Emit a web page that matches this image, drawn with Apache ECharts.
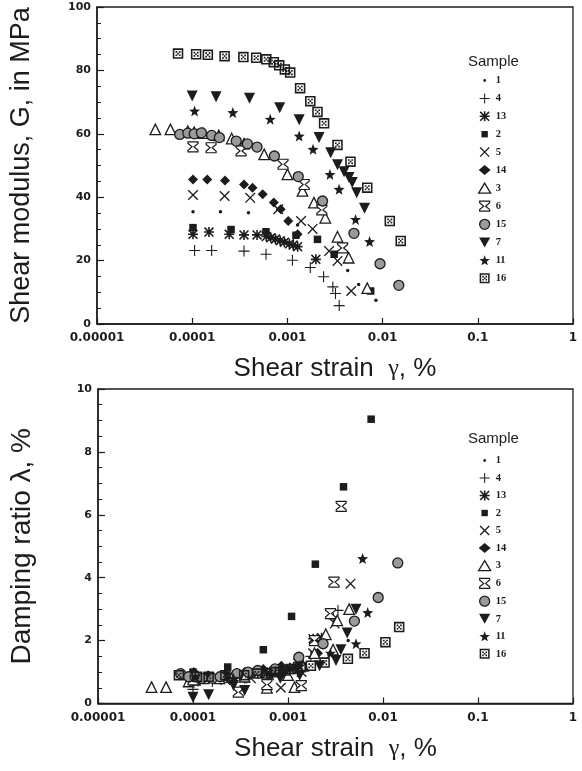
<!DOCTYPE html>
<html>
<head>
<meta charset="utf-8">
<script src="https://cdn.jsdelivr.net/npm/echarts@6/dist/echarts.min.js"></script>
<style>html,body{margin:0;padding:0;background:#fff;}#c{width:582px;height:771px;}</style>
</head>
<body>
<div id="c"></div>
<script>
// ---- tick labels / categories ----
const xTickLabels = ['0.00001', '0.0001', '0.001', '0.01', '0.1', '1'];
const samples = ['1', '4', '13', '2', '5', '14', '3', '6', '15', '7', '11', '16'];

// ---- Shear modulus G (MPa) vs shear strain (%) ----
const G1  = [[1.02e-4,35.4],[1.98e-4,35.4],[3.9e-4,35.1],[1.28e-3,31.2],[4.3e-3,16.9],[5.6e-3,12.5],[8.5e-3,7.5]];
const G4  = [[1.06e-4,23.2],[1.6e-4,23.2],[3.5e-4,23],[5.96e-4,22],[1.13e-3,20.1],[1.74e-3,17.8],[2.4e-3,14.9],[3.0e-3,11.7],[3.2e-3,9.6],[3.5e-3,5.8]];
const G13 = [[1.02e-4,28.3],[1.5e-4,29],[2.45e-4,28.3],[3.5e-4,28.1],[4.8e-4,28.1],[6.0e-4,27.6],[6.7e-4,27.2],[7.5e-4,26.8],[8.4e-4,26.3],[9.3e-4,25.8],[1.05e-3,25.3],[1.15e-3,24.9],[1.28e-3,24.4],[1.99e-3,20.4]];
const G2  = [[1.02e-4,30.4],[2.56e-4,29.8],[5.96e-4,29.1],[1.23e-3,28],[2.07e-3,26.7],[3.1e-3,22],[7.5e-3,10.4]];
const G5  = [[1.02e-4,40.7],[2.19e-4,40.4],[4.07e-4,39.8],[8.0e-4,36.2],[1.39e-3,32.5],[1.84e-3,30],[2.74e-3,23],[3.36e-3,19.9],[4.68e-3,10.4]];
const G14 = [[1.02e-4,45.6],[1.44e-4,45.6],[2.21e-4,45.3],[3.5e-4,44],[4.3e-4,43],[5.5e-4,40.9],[7.2e-4,38.3],[8.5e-4,36.2],[1.02e-3,32.5],[1.28e-3,28.3]];
const G3  = [[4.1e-5,61.4],[5.9e-5,61.4],[9e-5,60.8],[1.05e-4,60.5],[1.3e-4,60.2],[1.9e-4,59.5],[2.6e-4,58.5],[3.5e-4,56.9],[5.7e-4,53.5],[1.0e-3,47.2],[1.44e-3,42],[1.9e-3,38.3],[2.5e-3,33.5],[3.36e-3,27.5],[4.4e-3,20.9],[6.9e-3,11.3]];
const G6  = [[1.02e-4,55.9],[1.58e-4,55.6],[3.26e-4,54.6],[9.0e-4,50.4],[1.5e-3,44],[2.3e-3,36],[3.8e-3,24]];
const G15 = [[7.4e-5,59.8],[9e-5,60.2],[1.05e-4,60],[1.25e-4,60.3],[1.6e-4,59.5],[1.93e-4,58.8],[2.9e-4,57.7],[3.8e-4,56.8],[4.8e-4,55.8],[7.3e-4,53],[1.3e-3,46.5],[2.34e-3,38.8],[5.0e-3,28.6],[9.4e-3,19],[1.48e-2,12.2]];
const G7  = [[1.0e-4,71.9],[1.78e-4,71.7],[4.0e-4,71.2],[8.3e-4,68.2],[1.33e-3,64.4],[2.15e-3,58.8],[2.85e-3,54],[3.36e-3,50.2],[3.94e-3,48],[4.44e-3,46.2],[4.8e-3,44.6],[5.34e-3,41.4],[6.46e-3,36.5]];
const G11 = [[1.06e-4,67.2],[2.67e-4,66.7],[6.6e-4,64.6],[1.33e-3,59.3],[1.86e-3,55.1],[2.8e-3,47.2],[3.49e-3,42.5],[5.2e-3,33],[7.3e-3,26]];
const G16 = [[7.1e-5,85.3],[1.1e-4,85.1],[1.46e-4,84.9],[2.19e-4,84.5],[3.45e-4,84.2],[4.7e-4,84],[6.0e-4,83.5],[7.2e-4,82.6],[8.2e-4,81.6],[9.4e-4,80.3],[1.07e-3,79.3],[1.36e-3,74.4],[1.74e-3,70.3],[2.07e-3,66.9],[2.43e-3,63.3],[3.36e-3,56.5],[4.6e-3,51.2],[6.9e-3,43],[1.19e-2,32.5],[1.55e-2,26.2]];

// ---- Damping ratio (%) vs shear strain (%) ----
const D1  = [[1.02e-4,0.8],[1.98e-4,0.9],[3.9e-4,0.85],[1.28e-3,1.05],[4.3e-3,2.0]];
const D4  = [[1.0e-4,0.45],[1.6e-4,0.7],[3.5e-4,0.8],[6.0e-4,0.9],[1.13e-3,1.1],[1.74e-3,1.5],[2.26e-3,2.0],[3.0e-3,2.7],[3.36e-3,2.96]];
const D13 = [[1.02e-4,0.9],[1.5e-4,0.85],[2.45e-4,0.8],[3.5e-4,0.85],[4.8e-4,0.95],[6.0e-4,0.95],[6.7e-4,1.0],[7.5e-4,1.0],[8.4e-4,1.05],[9.3e-4,1.05],[1.05e-3,1.1],[1.15e-3,1.15],[1.28e-3,1.3],[1.84e-3,2.06],[2.26e-3,2.09]];
const D2  = [[1.0e-4,1.0],[2.32e-4,1.16],[5.5e-4,1.71],[1.09e-3,2.77],[1.94e-3,4.43],[3.84e-3,6.89],[7.5e-3,9.04]];
const D5  = [[1.02e-4,0.7],[2.19e-4,0.75],[4.07e-4,0.8],[8.4e-4,0.5],[1.39e-3,1.0],[1.84e-3,1.6],[3.1e-3,2.54],[4.55e-3,3.81]];
const D14 = [[1.02e-4,1.0],[1.44e-4,0.9],[2.21e-4,0.95],[3.5e-4,1.0],[5.5e-4,1.1],[8.5e-4,1.2],[1.28e-3,1.4],[2.07e-3,1.6]];
const D3  = [[3.66e-5,0.52],[5.2e-5,0.52],[9e-5,0.7],[1.05e-4,0.75],[1.3e-4,0.8],[1.9e-4,0.8],[2.6e-4,0.85],[3.5e-4,0.85],[6.0e-4,0.5],[1.0e-3,0.9],[1.17e-3,0.52],[1.44e-3,1.2],[1.9e-3,1.6],[2.5e-3,2.2],[2.98e-3,1.71],[3.3e-3,2.64],[4.4e-3,3.0]];
const D6  = [[1.0e-4,0.75],[3.0e-4,0.36],[6.0e-4,0.6],[1.38e-3,0.57],[1.9e-3,2.0],[2.8e-3,2.86],[3.05e-3,3.86],[3.63e-3,6.27]];
const D15 = [[7.4e-5,0.95],[9e-5,0.85],[1.05e-4,0.85],[1.25e-4,0.8],[1.6e-4,0.8],[1.93e-4,0.85],[2.9e-4,0.95],[3.8e-4,1.0],[4.8e-4,1.05],[7.3e-4,1.1],[1.3e-3,1.47],[2.34e-3,1.9],[5.0e-3,2.62],[8.9e-3,3.37],[1.43e-2,4.47]];
const D7  = [[1.0e-4,0.2],[1.46e-4,0.28],[2.67e-4,0.57],[3.5e-4,0.41],[8.3e-4,0.8],[1.33e-3,0.9],[2.15e-3,1.2],[3.2e-3,1.37],[3.6e-3,1.71],[4.2e-3,2.24],[5.2e-3,3.0]];
const D11 = [[1.06e-4,0.85],[2.67e-4,0.8],[6.6e-4,0.9],[1.33e-3,1.2],[2.8e-3,1.6],[5.2e-3,1.9],[6.9e-3,2.89],[6.1e-3,4.61]];
const D16 = [[7.1e-5,0.9],[1.1e-4,0.85],[1.46e-4,0.85],[2.19e-4,0.9],[3.45e-4,0.9],[4.7e-4,0.95],[6.0e-4,0.95],[7.2e-4,1.0],[8.2e-4,1.0],[9.4e-4,1.05],[1.07e-3,1.1],[1.36e-3,1.15],[1.74e-3,1.2],[2.43e-3,1.3],[4.27e-3,1.42],[6.4e-3,1.6],[1.06e-2,1.95],[1.48e-2,2.43]];

const Gdata = {'1':G1,'4':G4,'13':G13,'2':G2,'5':G5,'14':G14,'3':G3,'6':G6,'15':G15,'7':G7,'11':G11,'16':G16};
const Ddata = {'1':D1,'4':D4,'13':D13,'2':D2,'5':D5,'14':D14,'3':D3,'6':D6,'15':D15,'7':D7,'11':D11,'16':D16};

// ---- marker styles ----
const INK = '#1c1c1c';
const P_PLUS = 'path://M4.5,0L5.5,0L5.5,4.5L10,4.5L10,5.5L5.5,5.5L5.5,10L4.5,10L4.5,5.5L0,5.5L0,4.5L4.5,4.5Z';
const P_X = 'path://M0,0.9L0.9,0L10,9.1L9.1,10Z M9.1,0L10,0.9L0.9,10L0,9.1Z';
const P_AST = 'path://M4.2,0L5.8,0L5.8,10L4.2,10Z M0,4.2L10,4.2L10,5.8L0,5.8Z M0,1.1L1.1,0L10,8.9L8.9,10Z M8.9,0L10,1.1L1.1,10L0,8.9Z';
const P_HOUR = 'path://M0,0L10,0L10,1.6L6,5L10,8.4L10,10L0,10L0,8.4L4,5L0,1.6Z';
const P_STAR = 'path://M5,0.3L6.23,3.6L9.76,3.75L7,5.95L7.94,9.35L5,7.4L2.06,9.35L3,5.95L0.24,3.75L3.77,3.6Z';
const P_DICE = 'path://M0,0L10,0L10,10L0,10Z M1.5,1.5L1.5,8.5L8.5,8.5L8.5,1.5Z M2.6,2.6L4.2,2.6L4.2,4.2L2.6,4.2Z M5.8,2.6L7.4,2.6L7.4,4.2L5.8,4.2Z M4.2,4.2L5.8,4.2L5.8,5.8L4.2,5.8Z M2.6,5.8L4.2,5.8L4.2,7.4L2.6,7.4Z M5.8,5.8L7.4,5.8L7.4,7.4L5.8,7.4Z';
const P_DOWN = 'path://M0,0L10,0L5,9Z';
const styles = {
  '1':  {symbol:'circle', size:3.5, color:INK, bw:0},
  '4':  {symbol:P_PLUS, size:11, color:INK, bw:0},
  '13': {symbol:P_AST, size:10, color:INK, bw:0},
  '2':  {symbol:'rect', size:7.5, color:INK, bw:0},
  '5':  {symbol:P_X, size:10.5, color:INK, bw:0},
  '14': {symbol:'diamond', size:10, color:INK, bw:0},
  '3':  {symbol:'triangle', size:10.5, color:'#fff', bw:1.3},
  '6':  {symbol:P_HOUR, size:10, color:'#fff', bw:1.2},
  '15': {symbol:'circle', size:10, color:'#9a9a9a', bw:1.3},
  '7':  {symbol:P_DOWN, size:11, color:INK, bw:0},
  '11': {symbol:P_STAR, size:11, color:INK, bw:0},
  '16': {symbol:P_DICE, size:10.5, color:INK, bw:0}
};
const legendIcons = {
  '1': 'path://M0,0L0,0M10,10L10,10M3.6,5A1.4,1.4,0,1,1,6.4,5A1.4,1.4,0,1,1,3.6,5Z',
  '2': 'path://M0,0L0,0M10,10L10,10M1.8,1.8L8.2,1.8L8.2,8.2L1.8,8.2Z'
};

function mkSeries(name, data, idx) {
  const s = styles[name];
  return {
    type: 'scatter', name: name, xAxisIndex: idx, yAxisIndex: idx, data: data,
    symbol: s.symbol, symbolSize: s.size,
    itemStyle: {color: s.color, borderColor: INK, borderWidth: s.bw, opacity: 1},
    emphasis: {disabled: true}, animation: false
  };
}
const series = [];
samples.forEach(n => series.push(mkSeries(n, Gdata[n], 0)));
samples.forEach(n => series.push(mkSeries(n, Ddata[n], 1)));

function legendData() {
  return samples.map(n => {
    const d = {name: n, itemStyle: {borderWidth: styles[n].bw}};
    if (legendIcons[n]) d.icon = legendIcons[n];
    return d;
  });
}
function mkLegend(top, gap) {
  return {
    data: legendData(), orient: 'vertical', left: 478, top: top, padding: 0,
    itemWidth: 12, itemHeight: 10, itemGap: gap, selectedMode: false,
    textStyle: {fontFamily: 'Liberation Serif', fontWeight: 'bold', fontSize: 10.5, color: INK, lineHeight: 10, padding: [0, 0, 0, 0]}
  };
}

function xAxis(idx) {
  return {
    type: 'log', logBase: 10, min: 1e-5, max: 1, gridIndex: idx,
    axisLine: {lineStyle: {color: INK, width: 1.5}},
    axisTick: {inside: true, length: 6, lineStyle: {color: INK, width: 1.2}},
    minorTick: {show: false},
    splitLine: {show: false},
    axisLabel: {
      formatter: v => xTickLabels[Math.round(Math.log10(v)) + 5],
      fontFamily: 'DejaVu Sans', fontWeight: 'bold', fontSize: 12, color: INK, margin: 8
    },
    name: 'Shear strain  {g|γ}, %', nameLocation: 'middle', nameGap: 32,
    nameTextStyle: {fontFamily: 'Liberation Sans', fontSize: 26, color: INK,
      rich: {g: {fontFamily: 'Liberation Serif', fontSize: 24, color: INK}}}
  };
}
function yAxis(idx, max, interval, name, fs) {
  return {
    type: 'value', gridIndex: idx, min: 0, max: max, interval: interval,
    axisLine: {show: true, lineStyle: {color: INK, width: 1.5}},
    axisTick: {show: true, inside: true, length: 7, lineStyle: {color: INK, width: 1.2}},
    minorTick: {show: true, splitNumber: 4, length: 4, lineStyle: {color: INK, width: 1}},
    splitLine: {show: false},
    axisLabel: {fontFamily: 'DejaVu Sans', fontWeight: 'bold', fontSize: 11, color: INK, margin: 6},
    name: name, nameLocation: 'middle', nameGap: 62,
    nameTextStyle: {fontFamily: 'Liberation Sans', fontSize: fs, color: INK}
  };
}

const chart = echarts.init(document.getElementById('c'), null, {renderer: 'canvas'});
chart.setOption({
  backgroundColor: '#fff',
  animation: false,
  title: [
    {text: 'Sample', left: 468, top: 54, padding: 0, textStyle: {fontFamily: 'Liberation Sans', fontSize: 15, fontWeight: 'normal', color: INK}},
    {text: 'Sample', left: 468, top: 431, padding: 0, textStyle: {fontFamily: 'Liberation Sans', fontSize: 15, fontWeight: 'normal', color: INK}}
  ],
  legend: [mkLegend(75, 6.9), mkLegend(455, 6.5)],
  grid: [
    {left: 95.5, top: 7, width: 477.5, height: 317, show: true, borderColor: INK, borderWidth: 1.3},
    {left: 95.5, top: 389, width: 477.5, height: 314.5, show: true, borderColor: INK, borderWidth: 1.3}
  ],
  xAxis: [xAxis(0), xAxis(1)],
  yAxis: [
    yAxis(0, 100, 20, 'Shear modulus, G, in MPa', 27),
    yAxis(1, 10, 2, 'Damping ratio λ, %', 28)
  ],
  series: series
});
</script>
</body>
</html>
